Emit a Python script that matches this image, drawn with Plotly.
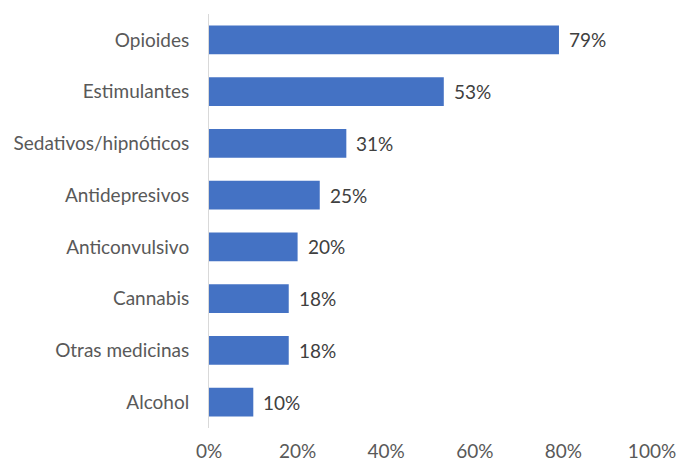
import plotly.graph_objects as go

categories = ["Opioides", "Estimulantes", "Sedativos/hipnóticos", "Antidepresivos",
              "Anticonvulsivo", "Cannabis", "Otras medicinas", "Alcohol"]
values = [0.79, 0.53, 0.31, 0.25, 0.20, 0.18, 0.18, 0.10]
tick_vals = [0, 0.2, 0.4, 0.6, 0.8, 1.0]
tick_text = ["0%", "20%", "40%", "60%", "80%", "100%"]

FONT = "Lato, Calibri, Carlito, sans-serif"
FS = 19

fig = go.Figure()
fig.add_trace(go.Bar(
    x=values, y=categories, orientation="h",
    marker=dict(color="#4472C4", line=dict(width=0)),
    hoverinfo="skip",
))
for c, v in zip(categories, values):
    fig.add_annotation(x=v, y=c, text=f"{round(v*100)}%", showarrow=False,
                       xanchor="left", xshift=8,
                       font=dict(family=FONT, size=FS, color="#404040"))

fig.update_layout(
    width=678, height=463,
    margin=dict(l=209, r=26, t=14, b=35),
    paper_bgcolor="white", plot_bgcolor="white",
    bargap=0.44, showlegend=False,
    font=dict(family=FONT, size=FS, color="#595959"),
)
fig.update_xaxes(range=[0, 1.0], tickvals=tick_vals, ticktext=tick_text,
                 showgrid=False, zeroline=False, showline=False, automargin=False,
                 ticks="outside", ticklen=6, tickcolor="rgba(0,0,0,0)",
                 tickfont=dict(family=FONT, size=FS, color="#595959"))
fig.update_yaxes(autorange="reversed", showgrid=False, zeroline=False, automargin=False,
                 showline=True, linecolor="#D9D9D9", linewidth=1,
                 ticks="outside", ticklen=15, tickcolor="rgba(0,0,0,0)",
                 tickfont=dict(family=FONT, size=FS, color="#595959"))

fig.write_html("out.html")
